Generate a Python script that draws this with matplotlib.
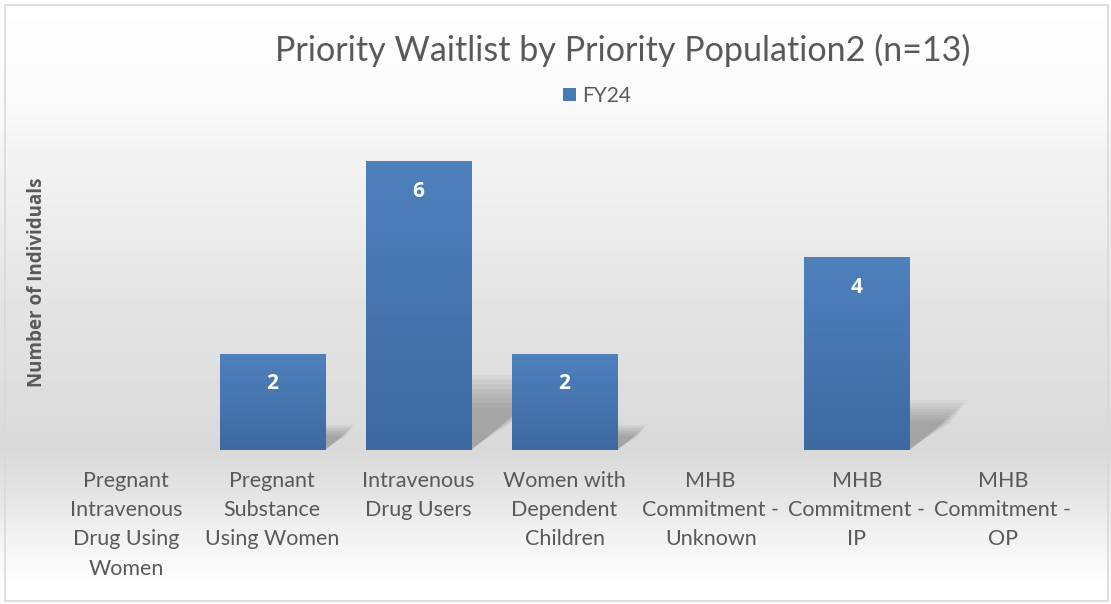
import numpy as np
import matplotlib
matplotlib.use("Agg")
import matplotlib.pyplot as plt
from matplotlib.patches import Polygon, Rectangle
from matplotlib.colors import LinearSegmentedColormap

plt.rcParams['font.family'] = ['Lato', 'DejaVu Sans']
bold_family = ['Open Sans', 'DejaVu Sans']   # Lato here has no bold face

# data
categories = ["Pregnant\nIntravenous\nDrug Using\nWomen",
              "Pregnant\nSubstance\nUsing Women",
              "Intravenous\nDrug Users",
              "Women with\nDependent\nChildren",
              "MHB\nCommitment -\nUnknown",
              "MHB\nCommitment -\nIP",
              "MHB\nCommitment -\nOP"]
fy24 = [0, 2, 6, 2, 0, 4, 0]
series_name = "FY24"
title = "Priority Waitlist by Priority Population2 (n=13)"
ylabel = "Number of Individuals"

grey_txt = "#595959"

fig = plt.figure(figsize=(11.11, 6.04), dpi=100)

# chart background: vertical grey gradient behind everything
bg = fig.add_axes([0, 0, 1, 1], zorder=-10)
stops = [(0.0, 1.0), (100/604, 0.98), (150/604, 0.956), (300/604, 0.894),
         (450/604, 0.851), (500/604, 0.90), (540/604, 0.953), (590/604, 1.0), (1.0, 1.0)]
ys = np.linspace(0, 1, 604)
vals = np.interp(ys, [s[0] for s in stops], [s[1] for s in stops])
bg.imshow(np.repeat(vals[:, None], 2, axis=1), cmap="gray", vmin=0, vmax=1,
          aspect="auto", extent=[0, 1, 1, 0])
bg.set_xlim(0, 1)
bg.set_ylim(1, 0)
bg.axis("off")
bg.add_patch(Rectangle((5/1111, 5/604), 1103/1111, 596/604, fill=False,
                       edgecolor="#d9d9d9", linewidth=1.2))

ax = fig.add_axes([53/1111, 154/604, 1023/1111, 337/604])
ax.patch.set_alpha(0)
x = np.arange(len(categories))
width = 0.72
bars = ax.bar(x, fy24, width=width, color="#4a7ab5", zorder=3, label=series_name)

# perspective shadows behind the bars
for b, v in zip(bars, fy24):
    if v == 0:
        continue
    x0 = b.get_x()
    x1 = x0 + b.get_width()
    dx = 0.1 * v
    hy = 0.26 * v
    for k in range(8):
        s = k / 8
        poly = Polygon([(x0 + 0.02, 0), (x1 + 0.01 - s * 0.03, 0),
                        (x1 + dx * (1 - 0.3 * s), hy * (1 - 0.5 * s)),
                        (x0 + dx * (1 - 0.3 * s), hy * (1 - 0.5 * s))],
                       closed=True, facecolor="#555555", edgecolor="none",
                       alpha=0.06, zorder=2)
        ax.add_patch(poly)

# gradient fill inside the bars
cmap = LinearSegmentedColormap.from_list("bar", ["#3d69a1", "#4f81bd"])
grad = np.linspace(0, 1, 256)[:, None]
for b in bars:
    if b.get_height() == 0:
        continue
    im = ax.imshow(grad, cmap=cmap, aspect="auto", origin="lower",
                   extent=[b.get_x(), b.get_x() + b.get_width(), 0, b.get_height()],
                   zorder=3.5)
    im.set_clip_path(b)
ax.set_aspect("auto")
ax.set_xlim(-0.5, len(categories) - 0.5)
ax.set_ylim(0, 7)

for b, v in zip(bars, fy24):
    if v == 0:
        continue
    ax.annotate(str(v), (b.get_x() + b.get_width() / 2, v), xytext=(0, -21.5),
                textcoords="offset points", ha="center", va="center",
                fontsize=15, fontweight="bold", family=bold_family,
                color="white", zorder=5)

ax.set_xticks(x)
ax.set_xticklabels(categories, fontsize=15.5, color=grey_txt, linespacing=1.58)
ax.tick_params(axis="x", length=0, pad=15)
ax.set_yticks([])
for sp in ax.spines.values():
    sp.set_visible(False)

fig.text(37/1111, 1 - 282/604, ylabel, rotation=90, ha="center", va="center",
         fontsize=13.5, fontweight="bold", family=bold_family, color=grey_txt)
fig.text(623/1111, 1 - 50/604, title, ha="center", va="center",
         fontsize=24.6, color=grey_txt)

leg = fig.legend(handles=[bars[1]], labels=[series_name], loc="center",
                 bbox_to_anchor=(597/1111, 1 - 96/604), frameon=False,
                 fontsize=15, handlelength=0.6, handleheight=0.6,
                 handletextpad=0.3, labelcolor=grey_txt)

fig.savefig("out.png", dpi=100)
